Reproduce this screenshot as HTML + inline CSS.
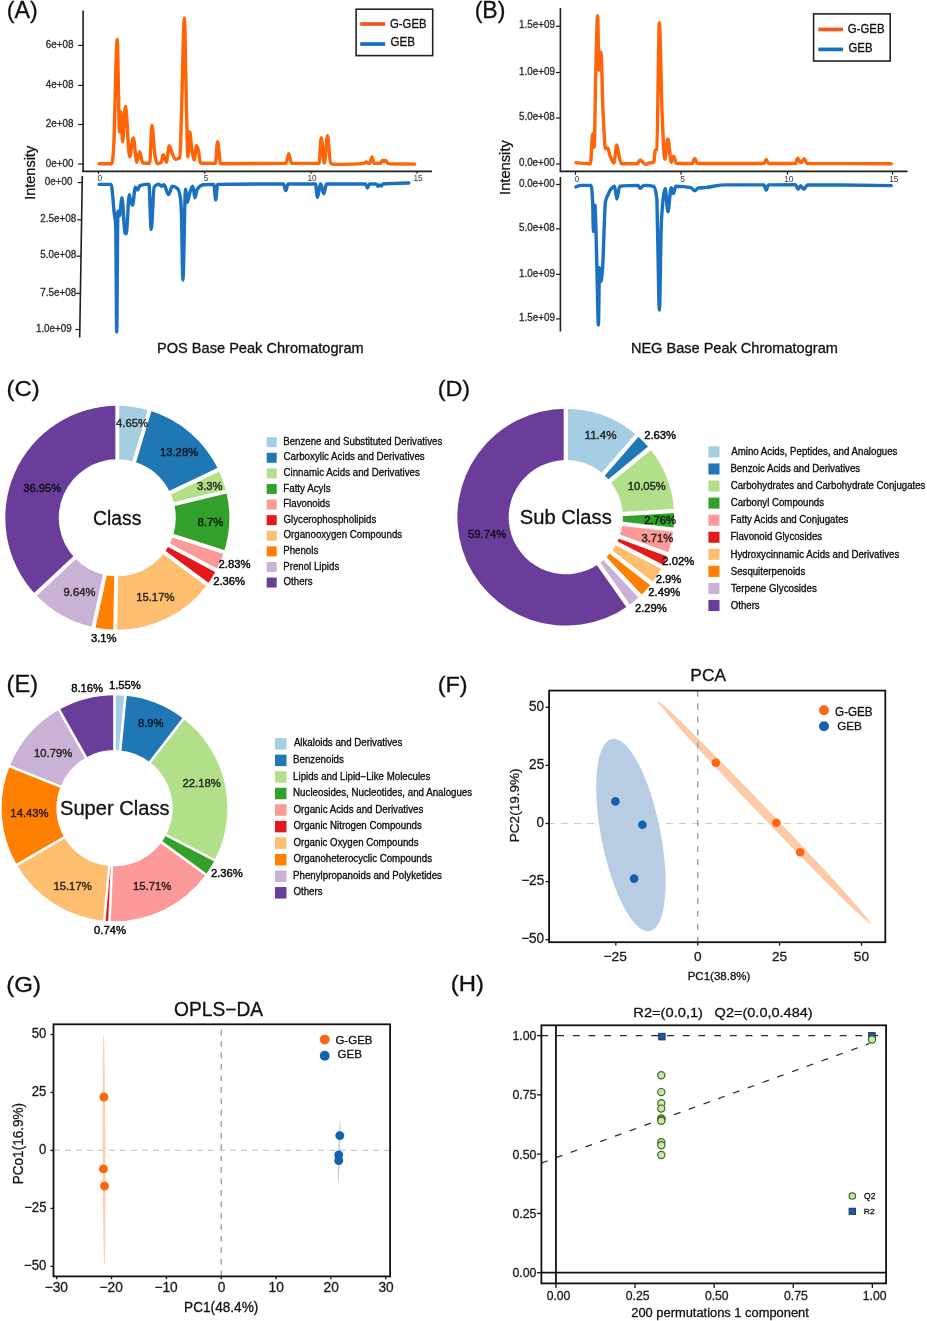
<!DOCTYPE html>
<html><head><meta charset="utf-8"><style>
html,body{margin:0;padding:0;background:#fff;overflow:hidden;}
svg{display:block;font-family:"Liberation Sans", sans-serif;will-change:transform;}
</style></head><body>
<svg width="927" height="1321" viewBox="0 0 927 1321">
<rect width="927" height="1321" fill="#fff"/>
<text x="6.66" y="17.80" font-size="23.11" textLength="30.98" lengthAdjust="spacingAndGlyphs" fill="#111" stroke="#111" stroke-width="0.3" >(A)</text>
<text x="474.67" y="17.80" font-size="23.11" textLength="30.76" lengthAdjust="spacingAndGlyphs" fill="#111" stroke="#111" stroke-width="0.3" >(B)</text>
<text x="6.52" y="396.20" font-size="22.53" textLength="33.16" lengthAdjust="spacingAndGlyphs" fill="#111" stroke="#111" stroke-width="0.3" >(C)</text>
<text x="437.65" y="395.80" font-size="22.97" textLength="32.50" lengthAdjust="spacingAndGlyphs" fill="#111" stroke="#111" stroke-width="0.3" >(D)</text>
<text x="6.64" y="691.70" font-size="23.26" textLength="31.42" lengthAdjust="spacingAndGlyphs" fill="#111" stroke="#111" stroke-width="0.3" >(E)</text>
<text x="437.65" y="691.50" font-size="22.97" textLength="29.90" lengthAdjust="spacingAndGlyphs" fill="#111" stroke="#111" stroke-width="0.3" >(F)</text>
<text x="6.31" y="991.70" font-size="21.95" textLength="34.68" lengthAdjust="spacingAndGlyphs" fill="#111" stroke="#111" stroke-width="0.3" >(G)</text>
<text x="450.82" y="991.30" font-size="21.37" textLength="33.16" lengthAdjust="spacingAndGlyphs" fill="#111" stroke="#111" stroke-width="0.3" >(H)</text>
<line x1="83.10" y1="10.50" x2="83.10" y2="172.10" stroke="#1e1e1e" stroke-width="1.6" />
<line x1="82.30" y1="171.45" x2="432.00" y2="171.45" stroke="#1e1e1e" stroke-width="1.8" />
<line x1="78.20" y1="45.40" x2="83.00" y2="45.40" stroke="#1e1e1e" stroke-width="1.2" />
<text x="45.78" y="47.90" font-size="10.20" textLength="27.64" lengthAdjust="spacingAndGlyphs" fill="#2a2a2a" stroke="#2a2a2a" stroke-width="0.3" >6e+08</text>
<line x1="78.20" y1="85.40" x2="83.00" y2="85.40" stroke="#1e1e1e" stroke-width="1.2" />
<text x="45.78" y="87.90" font-size="10.20" textLength="27.64" lengthAdjust="spacingAndGlyphs" fill="#2a2a2a" stroke="#2a2a2a" stroke-width="0.3" >4e+08</text>
<line x1="78.20" y1="124.50" x2="83.00" y2="124.50" stroke="#1e1e1e" stroke-width="1.2" />
<text x="45.78" y="127.00" font-size="10.20" textLength="27.64" lengthAdjust="spacingAndGlyphs" fill="#2a2a2a" stroke="#2a2a2a" stroke-width="0.3" >2e+08</text>
<line x1="78.20" y1="164.00" x2="83.00" y2="164.00" stroke="#1e1e1e" stroke-width="1.2" />
<text x="45.74" y="166.50" font-size="10.20" textLength="27.64" lengthAdjust="spacingAndGlyphs" fill="#2a2a2a" stroke="#2a2a2a" stroke-width="0.3" >0e+00</text>
<line x1="98.50" y1="171.40" x2="98.50" y2="173.80" stroke="#1e1e1e" stroke-width="1.2" />
<text x="97.39" y="180.80" font-size="8.30" textLength="4.62" lengthAdjust="spacingAndGlyphs" fill="#3a3a3a" stroke="#3a3a3a" stroke-width="0" >0</text>
<line x1="204.80" y1="171.40" x2="204.80" y2="173.80" stroke="#1e1e1e" stroke-width="1.2" />
<text x="203.70" y="180.80" font-size="8.30" textLength="4.62" lengthAdjust="spacingAndGlyphs" fill="#3a3a3a" stroke="#3a3a3a" stroke-width="0" >5</text>
<line x1="311.00" y1="171.40" x2="311.00" y2="173.80" stroke="#1e1e1e" stroke-width="1.2" />
<text x="307.43" y="180.80" font-size="8.30" textLength="9.23" lengthAdjust="spacingAndGlyphs" fill="#3a3a3a" stroke="#3a3a3a" stroke-width="0" >10</text>
<line x1="417.00" y1="171.40" x2="417.00" y2="173.80" stroke="#1e1e1e" stroke-width="1.2" />
<text x="413.44" y="180.80" font-size="8.30" textLength="9.23" lengthAdjust="spacingAndGlyphs" fill="#3a3a3a" stroke="#3a3a3a" stroke-width="0" >15</text>
<line x1="82.30" y1="176.00" x2="79.70" y2="337.50" stroke="#1e1e1e" stroke-width="1.6" />
<line x1="77.69" y1="182.60" x2="82.19" y2="182.60" stroke="#1e1e1e" stroke-width="1.2" />
<text x="44.74" y="184.80" font-size="10.20" textLength="27.64" lengthAdjust="spacingAndGlyphs" fill="#2a2a2a" stroke="#2a2a2a" stroke-width="0.3" >0e+00</text>
<line x1="77.09" y1="219.80" x2="81.59" y2="219.80" stroke="#1e1e1e" stroke-width="1.2" />
<text x="40.27" y="222.00" font-size="10.20" textLength="35.85" lengthAdjust="spacingAndGlyphs" fill="#2a2a2a" stroke="#2a2a2a" stroke-width="0.3" >2.5e+08</text>
<line x1="76.51" y1="256.20" x2="81.01" y2="256.20" stroke="#1e1e1e" stroke-width="1.2" />
<text x="40.27" y="258.40" font-size="10.20" textLength="35.85" lengthAdjust="spacingAndGlyphs" fill="#2a2a2a" stroke="#2a2a2a" stroke-width="0.3" >5.0e+08</text>
<line x1="75.91" y1="293.40" x2="80.41" y2="293.40" stroke="#1e1e1e" stroke-width="1.2" />
<text x="40.27" y="295.60" font-size="10.20" textLength="35.85" lengthAdjust="spacingAndGlyphs" fill="#2a2a2a" stroke="#2a2a2a" stroke-width="0.3" >7.5e+08</text>
<line x1="75.33" y1="329.50" x2="79.83" y2="329.50" stroke="#1e1e1e" stroke-width="1.2" />
<text x="35.91" y="331.70" font-size="10.20" textLength="35.85" lengthAdjust="spacingAndGlyphs" fill="#2a2a2a" stroke="#2a2a2a" stroke-width="0.3" >1.0e+09</text>
<text transform="translate(35.30,198.50) rotate(-90)" x="-1.34" y="0" font-size="15.26" textLength="53.97" lengthAdjust="spacingAndGlyphs" fill="#111" stroke="#111" stroke-width="0.3">Intensity</text>
<text x="157.00" y="352.70" font-size="13.81" textLength="206.66" lengthAdjust="spacingAndGlyphs" fill="#111" stroke="#111" stroke-width="0.3" >POS Base Peak Chromatogram</text>
<path d="M99.10,163.70 C103.37,163.70 107.63,163.70 111.90,163.70 C112.43,163.70 112.97,156.98 113.50,150.60 C114.73,135.84 115.97,39.10 117.20,39.10 C117.97,39.10 118.73,132.00 119.50,132.00 C120.00,132.00 120.50,111.60 121.00,111.60 C121.50,111.60 122.00,141.80 122.50,141.80 C123.50,141.80 124.50,106.30 125.50,106.30 C126.87,106.30 128.23,156.90 129.60,156.90 C130.83,156.90 132.07,138.00 133.30,138.00 C134.47,138.00 135.63,162.20 136.80,162.20 C137.70,162.20 138.60,151.60 139.50,151.60 C140.63,151.60 141.77,162.85 142.90,163.00 C145.17,163.29 147.43,163.40 149.70,163.40 C150.43,163.40 151.17,125.20 151.90,125.20 C152.93,125.20 153.97,150.21 155.00,155.60 C155.73,159.43 156.47,163.70 157.20,163.70 C158.47,163.70 159.73,163.33 161.00,162.60 C161.77,162.16 162.53,154.60 163.30,154.60 C164.30,154.60 165.30,162.20 166.30,162.20 C167.30,162.20 168.30,145.60 169.30,145.60 C170.20,145.60 171.10,150.56 172.00,152.60 C173.10,155.09 174.20,159.20 175.30,159.20 C176.83,159.20 178.37,158.86 179.90,157.60 C180.40,157.19 180.90,131.62 181.40,116.90 C182.40,87.45 183.40,18.00 184.40,18.00 C185.10,18.00 185.80,84.39 186.50,110.60 C186.97,128.07 187.43,156.90 187.90,156.90 C188.50,156.90 189.10,132.00 189.70,132.00 C190.47,132.00 191.23,146.35 192.00,150.60 C192.73,154.66 193.47,159.90 194.20,159.90 C194.97,159.90 195.73,145.60 196.50,145.60 C197.17,145.60 197.83,148.13 198.50,150.60 C199.10,152.82 199.70,162.96 200.30,163.00 C205.33,163.36 210.37,163.40 215.40,163.40 C216.13,163.40 216.87,141.80 217.60,141.80 C218.60,141.80 219.60,163.70 220.60,163.70 C242.40,163.70 264.20,163.69 286.00,163.40 C286.92,163.39 287.83,153.60 288.75,153.60 C289.67,153.60 290.58,163.40 291.50,163.40 C300.67,163.40 309.83,163.40 319.00,163.40 C319.75,163.40 320.50,137.60 321.25,137.60 C322.25,137.60 323.25,163.10 324.25,163.10 C325.33,163.10 326.42,135.60 327.50,135.60 C328.50,135.60 329.50,162.50 330.50,163.10 C332.00,164.00 333.50,164.40 335.00,164.40 C344.67,164.40 354.33,164.26 364.00,163.40 C364.75,163.33 365.50,161.85 366.25,161.85 C367.00,161.85 367.75,163.60 368.50,163.60 C369.00,163.60 369.50,163.39 370.00,163.10 C370.67,162.71 371.33,156.85 372.00,156.85 C372.67,156.85 373.33,163.40 374.00,163.40 C376.17,163.40 378.33,163.40 380.50,163.40 C381.17,163.40 381.83,160.10 382.50,160.10 C383.00,160.10 383.50,161.60 384.00,161.60 C384.50,161.60 385.00,160.10 385.50,160.10 C386.33,160.10 387.17,163.56 388.00,163.60 C396.83,164.05 405.67,163.93 414.50,164.10" fill="none" stroke="#ff6508" stroke-width="3.4" stroke-linejoin="round" stroke-linecap="round"/>
<path d="M99.10,184.40 C103.10,184.40 107.10,184.40 111.10,184.40 C112.13,184.40 113.17,204.04 114.20,212.80 C114.70,217.04 115.20,216.90 115.70,224.80 C116.03,230.07 116.37,332.10 116.70,332.10 C117.10,332.10 117.50,211.20 117.90,211.20 C118.43,211.20 118.97,215.80 119.50,215.80 C120.33,215.80 121.17,197.70 122.00,197.70 C123.00,197.70 124.00,231.98 125.00,233.10 C125.40,233.55 125.80,233.90 126.20,233.90 C127.23,233.90 128.27,194.60 129.30,194.60 C129.80,194.60 130.30,200.93 130.80,202.20 C131.40,203.73 132.00,205.20 132.60,205.20 C133.50,205.20 134.40,187.10 135.30,187.10 C136.07,187.10 136.83,190.10 137.60,190.10 C138.33,190.10 139.07,185.87 139.80,185.60 C142.83,184.48 145.87,184.10 148.90,184.10 C149.67,184.10 150.43,229.40 151.20,229.40 C152.20,229.40 153.20,188.46 154.20,187.10 C155.70,185.07 157.20,184.10 158.70,184.10 C159.70,184.10 160.70,186.30 161.70,186.30 C162.47,186.30 163.23,184.80 164.00,184.80 C165.50,184.80 167.00,194.60 168.50,194.60 C169.77,194.60 171.03,186.30 172.30,186.30 C174.07,186.30 175.83,187.13 177.60,188.60 C178.60,189.43 179.60,192.50 180.60,199.20 C180.87,200.99 181.13,206.51 181.40,212.80 C181.90,224.59 182.40,280.00 182.90,280.00 C183.77,280.00 184.63,189.30 185.50,189.30 C186.13,189.30 186.77,202.20 187.40,202.20 C188.17,202.20 188.93,195.34 189.70,193.10 C190.70,190.18 191.70,186.30 192.70,186.30 C193.47,186.30 194.23,197.70 195.00,197.70 C195.73,197.70 196.47,190.31 197.20,189.30 C199.23,186.49 201.27,184.96 203.30,184.80 C206.80,184.52 210.30,184.40 213.80,184.40 C214.43,184.40 215.07,199.90 215.70,199.90 C216.33,199.90 216.97,184.41 217.60,184.40 C239.57,184.01 261.53,184.00 283.50,184.00 C284.25,184.00 285.00,190.50 285.75,190.50 C286.50,190.50 287.25,184.00 288.00,184.00 C297.17,184.00 306.33,184.00 315.50,184.00 C316.17,184.00 316.83,197.50 317.50,197.50 C318.50,197.50 319.50,183.75 320.50,183.75 C321.58,183.75 322.67,193.75 323.75,193.75 C324.67,193.75 325.58,184.00 326.50,184.00 C339.50,184.00 352.50,184.00 365.50,184.00 C366.17,184.00 366.83,188.00 367.50,188.00 C368.17,188.00 368.83,184.00 369.50,184.00 C371.67,184.00 373.83,184.00 376.00,184.00 C376.67,184.00 377.33,186.25 378.00,186.25 C378.50,186.25 379.00,185.00 379.50,185.00 C380.08,185.00 380.67,186.00 381.25,186.00 C381.83,186.00 382.42,184.06 383.00,184.00 C391.58,183.11 400.17,183.33 408.75,183.00" fill="none" stroke="#1b70c1" stroke-width="3.4" stroke-linejoin="round" stroke-linecap="round"/>
<rect x="356.1" y="9.2" width="76.6" height="46.4" fill="#fff" stroke="#222" stroke-width="1.6"/>
<line x1="360.20" y1="24.00" x2="385.20" y2="24.00" stroke="#f2561c" stroke-width="3.7" />
<line x1="360.20" y1="44.05" x2="385.20" y2="44.05" stroke="#1670c0" stroke-width="3.7" />
<text x="390.03" y="27.60" font-size="12.06" textLength="36.47" lengthAdjust="spacingAndGlyphs" fill="#111" stroke="#111" stroke-width="0.3" >G-GEB</text>
<text x="390.42" y="46.40" font-size="12.06" textLength="24.50" lengthAdjust="spacingAndGlyphs" fill="#111" stroke="#111" stroke-width="0.3" >GEB</text>
<line x1="560.40" y1="8.00" x2="560.40" y2="171.60" stroke="#1e1e1e" stroke-width="1.6" />
<line x1="559.60" y1="171.30" x2="907.50" y2="171.30" stroke="#1e1e1e" stroke-width="1.8" />
<line x1="556.00" y1="26.25" x2="560.40" y2="26.25" stroke="#1e1e1e" stroke-width="1.2" />
<text x="519.01" y="28.35" font-size="10.20" textLength="35.85" lengthAdjust="spacingAndGlyphs" fill="#2a2a2a" stroke="#2a2a2a" stroke-width="0.3" >1.5e+09</text>
<line x1="556.00" y1="72.50" x2="560.40" y2="72.50" stroke="#1e1e1e" stroke-width="1.2" />
<text x="519.01" y="74.60" font-size="10.20" textLength="35.85" lengthAdjust="spacingAndGlyphs" fill="#2a2a2a" stroke="#2a2a2a" stroke-width="0.3" >1.0e+09</text>
<line x1="556.00" y1="118.00" x2="560.40" y2="118.00" stroke="#1e1e1e" stroke-width="1.2" />
<text x="518.97" y="120.10" font-size="10.20" textLength="35.85" lengthAdjust="spacingAndGlyphs" fill="#2a2a2a" stroke="#2a2a2a" stroke-width="0.3" >5.0e+08</text>
<line x1="556.00" y1="164.00" x2="560.40" y2="164.00" stroke="#1e1e1e" stroke-width="1.2" />
<text x="518.93" y="166.10" font-size="10.20" textLength="35.85" lengthAdjust="spacingAndGlyphs" fill="#2a2a2a" stroke="#2a2a2a" stroke-width="0.3" >0.0e+00</text>
<line x1="575.50" y1="171.30" x2="575.50" y2="174.70" stroke="#1e1e1e" stroke-width="1.2" />
<text x="574.69" y="182.40" font-size="8.30" textLength="4.62" lengthAdjust="spacingAndGlyphs" fill="#3a3a3a" stroke="#3a3a3a" stroke-width="0" >0</text>
<line x1="681.00" y1="171.30" x2="681.00" y2="174.70" stroke="#1e1e1e" stroke-width="1.2" />
<text x="680.20" y="182.40" font-size="8.30" textLength="4.62" lengthAdjust="spacingAndGlyphs" fill="#3a3a3a" stroke="#3a3a3a" stroke-width="0" >5</text>
<line x1="787.50" y1="171.30" x2="787.50" y2="174.70" stroke="#1e1e1e" stroke-width="1.2" />
<text x="784.23" y="182.40" font-size="8.30" textLength="9.23" lengthAdjust="spacingAndGlyphs" fill="#3a3a3a" stroke="#3a3a3a" stroke-width="0" >10</text>
<line x1="892.50" y1="171.30" x2="892.50" y2="174.70" stroke="#1e1e1e" stroke-width="1.2" />
<text x="889.24" y="182.40" font-size="8.30" textLength="9.23" lengthAdjust="spacingAndGlyphs" fill="#3a3a3a" stroke="#3a3a3a" stroke-width="0" >15</text>
<line x1="560.40" y1="177.00" x2="560.40" y2="331.50" stroke="#1e1e1e" stroke-width="1.6" />
<line x1="556.00" y1="184.50" x2="560.40" y2="184.50" stroke="#1e1e1e" stroke-width="1.2" />
<text x="518.93" y="186.90" font-size="10.20" textLength="35.85" lengthAdjust="spacingAndGlyphs" fill="#2a2a2a" stroke="#2a2a2a" stroke-width="0.3" >0.0e+00</text>
<line x1="556.00" y1="228.90" x2="560.40" y2="228.90" stroke="#1e1e1e" stroke-width="1.2" />
<text x="518.97" y="231.30" font-size="10.20" textLength="35.85" lengthAdjust="spacingAndGlyphs" fill="#2a2a2a" stroke="#2a2a2a" stroke-width="0.3" >5.0e+08</text>
<line x1="556.00" y1="274.40" x2="560.40" y2="274.40" stroke="#1e1e1e" stroke-width="1.2" />
<text x="519.01" y="276.80" font-size="10.20" textLength="35.85" lengthAdjust="spacingAndGlyphs" fill="#2a2a2a" stroke="#2a2a2a" stroke-width="0.3" >1.0e+09</text>
<line x1="556.00" y1="318.90" x2="560.40" y2="318.90" stroke="#1e1e1e" stroke-width="1.2" />
<text x="519.01" y="321.30" font-size="10.20" textLength="35.85" lengthAdjust="spacingAndGlyphs" fill="#2a2a2a" stroke="#2a2a2a" stroke-width="0.3" >1.5e+09</text>
<text transform="translate(509.70,193.60) rotate(-90)" x="-1.36" y="0" font-size="15.26" textLength="54.79" lengthAdjust="spacingAndGlyphs" fill="#111" stroke="#111" stroke-width="0.3">Intensity</text>
<text x="630.91" y="352.70" font-size="13.81" textLength="206.95" lengthAdjust="spacingAndGlyphs" fill="#111" stroke="#111" stroke-width="0.3" >NEG Base Peak Chromatogram</text>
<path d="M576.00,162.60 C580.80,163.00 585.60,163.80 590.40,163.80 C591.17,163.80 591.93,133.60 592.70,133.60 C593.20,133.60 593.70,147.20 594.20,147.20 C594.70,147.20 595.20,95.36 595.70,76.20 C596.33,51.92 596.97,15.80 597.60,15.80 C598.07,15.80 598.53,70.20 599.00,70.20 C599.67,70.20 600.33,52.10 601.00,52.10 C601.67,52.10 602.33,97.20 603.00,110.70 C603.83,127.58 604.67,148.70 605.50,148.70 C606.27,148.70 607.03,148.00 607.80,148.00 C608.53,148.00 609.27,153.82 610.00,155.70 C611.27,158.95 612.53,163.10 613.80,163.10 C614.80,163.10 615.80,144.90 616.80,144.90 C617.53,144.90 618.27,152.76 619.00,155.70 C619.80,158.91 620.60,163.80 621.40,163.80 C626.67,163.80 631.93,163.80 637.20,163.80 C638.20,163.80 639.20,160.00 640.20,160.00 C641.97,160.00 643.73,164.60 645.50,164.60 C646.50,164.60 647.50,163.34 648.50,163.10 C650.27,162.67 652.03,162.94 653.80,162.30 C654.30,162.12 654.80,150.64 655.30,150.20 C655.80,149.76 656.30,149.92 656.80,149.50 C657.67,148.76 658.53,22.60 659.40,22.60 C660.27,22.60 661.13,90.73 662.00,110.70 C662.93,132.21 663.87,159.30 664.80,159.30 C665.83,159.30 666.87,138.90 667.90,138.90 C669.00,138.90 670.10,162.30 671.20,162.30 C671.97,162.30 672.73,156.30 673.50,156.30 C674.50,156.30 675.50,163.50 676.50,163.50 C681.77,163.50 687.03,163.50 692.30,163.50 C693.07,163.50 693.83,158.50 694.60,158.50 C695.60,158.50 696.60,163.50 697.60,163.50 C719.73,163.50 741.87,163.50 764.00,163.50 C764.75,163.50 765.50,159.45 766.25,159.45 C767.00,159.45 767.75,163.50 768.50,163.50 C777.50,163.50 786.50,163.50 795.50,163.50 C796.17,163.50 796.83,158.20 797.50,158.20 C798.67,158.20 799.83,162.70 801.00,162.70 C802.08,162.70 803.17,158.70 804.25,158.70 C805.17,158.70 806.08,163.49 807.00,163.50 C835.08,163.69 863.17,163.63 891.25,163.70" fill="none" stroke="#ff6508" stroke-width="3.4" stroke-linejoin="round" stroke-linecap="round"/>
<path d="M576.00,186.90 C577.53,186.40 579.07,185.40 580.60,185.40 C584.10,185.40 587.60,185.40 591.10,185.40 C591.63,185.40 592.17,192.88 592.70,202.80 C592.93,207.14 593.17,231.50 593.40,231.50 C593.90,231.50 594.40,205.10 594.90,205.10 C595.27,205.10 595.63,220.39 596.00,231.50 C596.40,243.62 596.80,265.76 597.20,281.30 C597.60,296.84 598.00,325.10 598.40,325.10 C598.77,325.10 599.13,267.70 599.50,267.70 C600.00,267.70 600.50,281.30 601.00,281.30 C601.50,281.30 602.00,274.85 602.50,269.20 C603.50,257.90 604.50,205.89 605.50,201.30 C606.27,197.78 607.03,196.96 607.80,195.20 C608.80,192.91 609.80,190.35 610.80,189.20 C612.07,187.74 613.33,186.20 614.60,186.20 C615.33,186.20 616.07,199.00 616.80,199.00 C617.80,199.00 618.80,186.31 619.80,186.20 C625.87,185.51 631.93,185.40 638.00,185.40 C638.73,185.40 639.47,188.40 640.20,188.40 C641.47,188.40 642.73,185.40 644.00,185.40 C647.27,185.40 650.53,185.64 653.80,186.50 C654.80,186.76 655.80,189.70 656.80,198.30 C657.07,200.59 657.33,221.50 657.60,233.00 C658.20,258.87 658.80,310.00 659.40,310.00 C660.07,310.00 660.73,231.19 661.40,220.90 C662.67,201.35 663.93,188.40 665.20,188.40 C666.10,188.40 667.00,211.80 667.90,211.80 C669.00,211.80 670.10,187.70 671.20,187.70 C671.97,187.70 672.73,193.70 673.50,193.70 C674.23,193.70 674.97,186.20 675.70,186.20 C680.73,186.20 685.77,186.65 690.80,187.70 C692.07,187.96 693.33,190.70 694.60,190.70 C695.87,190.70 697.13,188.15 698.40,188.00 C700.60,187.73 702.80,187.77 705.00,187.60 C711.67,187.07 718.33,184.85 725.00,184.85 C738.00,184.85 751.00,184.85 764.00,184.85 C764.75,184.85 765.50,190.10 766.25,190.10 C767.00,190.10 767.75,184.87 768.50,184.85 C777.50,184.62 786.50,184.60 795.50,184.60 C796.33,184.60 797.17,189.35 798.00,189.35 C798.83,189.35 799.67,185.60 800.50,185.60 C801.58,185.60 802.67,189.35 803.75,189.35 C805.00,189.35 806.25,184.85 807.50,184.85 C835.42,184.85 863.33,185.35 891.25,185.60" fill="none" stroke="#1b70c1" stroke-width="3.4" stroke-linejoin="round" stroke-linecap="round"/>
<rect x="813.6" y="13.9" width="76.6" height="47.1" fill="#fff" stroke="#222" stroke-width="1.6"/>
<line x1="818.30" y1="29.45" x2="843.00" y2="29.45" stroke="#f2561c" stroke-width="3.7" />
<line x1="818.30" y1="49.40" x2="843.00" y2="49.40" stroke="#1670c0" stroke-width="3.7" />
<text x="847.73" y="32.60" font-size="11.92" textLength="36.78" lengthAdjust="spacingAndGlyphs" fill="#111" stroke="#111" stroke-width="0.3" >G-GEB</text>
<text x="848.43" y="52.20" font-size="11.92" textLength="24.07" lengthAdjust="spacingAndGlyphs" fill="#111" stroke="#111" stroke-width="0.3" >GEB</text>
<path d="M117.30,405.85 A112,112 0 0 1 149.57,410.60 L134.15,461.83 A58.5,58.5 0 0 0 117.30,459.35 Z" fill="#A6CEE3"/>
<path d="M149.57,410.60 A112,112 0 0 1 218.44,469.74 L170.13,492.72 A58.5,58.5 0 0 0 134.15,461.83 Z" fill="#1F78B4"/>
<path d="M218.44,469.74 A112,112 0 0 1 226.18,491.60 L174.17,504.14 A58.5,58.5 0 0 0 170.13,492.72 Z" fill="#B2DF8A"/>
<path d="M226.18,491.60 A112,112 0 0 1 223.96,552.03 L173.01,535.70 A58.5,58.5 0 0 0 174.17,504.14 Z" fill="#33A02C"/>
<path d="M223.96,552.03 A112,112 0 0 1 216.23,570.36 L168.97,545.28 A58.5,58.5 0 0 0 173.01,535.70 Z" fill="#FB9A99"/>
<path d="M216.23,570.36 A112,112 0 0 1 207.38,584.40 L164.35,552.61 A58.5,58.5 0 0 0 168.97,545.28 Z" fill="#E31A1C"/>
<path d="M207.38,584.40 A112,112 0 0 1 115.19,629.83 L116.20,576.34 A58.5,58.5 0 0 0 164.35,552.61 Z" fill="#FDBF6F"/>
<path d="M115.19,629.83 A112,112 0 0 1 93.55,627.30 L104.90,575.02 A58.5,58.5 0 0 0 116.20,576.34 Z" fill="#FF7F00"/>
<path d="M93.55,627.30 A112,112 0 0 1 35.45,594.30 L74.55,557.78 A58.5,58.5 0 0 0 104.90,575.02 Z" fill="#CAB2D6"/>
<path d="M35.45,594.30 A112,112 0 0 1 117.30,405.85 L117.30,459.35 A58.5,58.5 0 0 0 74.55,557.78 Z" fill="#6A3D9A"/>
<line x1="117.30" y1="461.35" x2="117.30" y2="403.85" stroke="#fff" stroke-width="3.9" />
<line x1="133.58" y1="463.75" x2="150.14" y2="408.68" stroke="#fff" stroke-width="3.9" />
<line x1="168.32" y1="493.58" x2="220.25" y2="468.88" stroke="#fff" stroke-width="3.9" />
<line x1="172.23" y1="504.61" x2="228.12" y2="491.13" stroke="#fff" stroke-width="3.9" />
<line x1="171.10" y1="535.09" x2="225.86" y2="552.64" stroke="#fff" stroke-width="3.9" />
<line x1="167.21" y1="544.34" x2="217.99" y2="571.30" stroke="#fff" stroke-width="3.9" />
<line x1="162.74" y1="551.42" x2="208.99" y2="585.59" stroke="#fff" stroke-width="3.9" />
<line x1="116.23" y1="574.34" x2="115.15" y2="631.83" stroke="#fff" stroke-width="3.9" />
<line x1="105.32" y1="573.07" x2="93.13" y2="629.26" stroke="#fff" stroke-width="3.9" />
<line x1="76.01" y1="556.42" x2="33.99" y2="595.67" stroke="#fff" stroke-width="3.9" />
<text x="93.12" y="524.80" font-size="19.77" textLength="48.17" lengthAdjust="spacingAndGlyphs" fill="#111" stroke="#111" stroke-width="0.3" >Class</text>
<text x="116.10" y="426.90" font-size="11.80" textLength="31.95" lengthAdjust="spacingAndGlyphs" fill="#000" stroke="#000" stroke-width="0.45" opacity="0.82">4.65%</text>
<text x="159.96" y="455.50" font-size="11.80" textLength="38.22" lengthAdjust="spacingAndGlyphs" fill="#000" stroke="#000" stroke-width="0.45" opacity="0.82">13.28%</text>
<text x="196.94" y="489.70" font-size="11.80" textLength="25.69" lengthAdjust="spacingAndGlyphs" fill="#000" stroke="#000" stroke-width="0.45" opacity="0.82">3.3%</text>
<text x="197.51" y="525.60" font-size="11.80" textLength="25.69" lengthAdjust="spacingAndGlyphs" fill="#000" stroke="#000" stroke-width="0.45" opacity="0.82">8.7%</text>
<text x="218.54" y="567.90" font-size="11.80" textLength="31.95" lengthAdjust="spacingAndGlyphs" fill="#0a0a0a" stroke="#0a0a0a" stroke-width="0.45" >2.83%</text>
<text x="213.14" y="585.40" font-size="11.80" textLength="31.95" lengthAdjust="spacingAndGlyphs" fill="#0a0a0a" stroke="#0a0a0a" stroke-width="0.45" >2.36%</text>
<text x="136.21" y="600.80" font-size="11.80" textLength="38.22" lengthAdjust="spacingAndGlyphs" fill="#000" stroke="#000" stroke-width="0.45" opacity="0.82">15.17%</text>
<text x="90.94" y="642.10" font-size="11.80" textLength="25.69" lengthAdjust="spacingAndGlyphs" fill="#0a0a0a" stroke="#0a0a0a" stroke-width="0.45" >3.1%</text>
<text x="63.56" y="595.70" font-size="11.80" textLength="31.95" lengthAdjust="spacingAndGlyphs" fill="#000" stroke="#000" stroke-width="0.45" opacity="0.82">9.64%</text>
<text x="23.18" y="492.20" font-size="11.80" textLength="38.22" lengthAdjust="spacingAndGlyphs" fill="#000" stroke="#000" stroke-width="0.45" opacity="0.82">36.95%</text>
<path d="M565.80,408.80 A108.4,108.4 0 0 1 636.98,435.44 L603.29,474.13 A57.1,57.1 0 0 0 565.80,460.10 Z" fill="#A6CEE3"/>
<path d="M636.98,435.44 A108.4,108.4 0 0 1 649.46,448.27 L609.87,480.89 A57.1,57.1 0 0 0 603.29,474.13 Z" fill="#1F78B4"/>
<path d="M649.46,448.27 A108.4,108.4 0 0 1 674.02,510.95 L622.81,513.91 A57.1,57.1 0 0 0 609.87,480.89 Z" fill="#B2DF8A"/>
<path d="M674.02,510.95 A108.4,108.4 0 0 1 673.47,529.72 L622.52,523.80 A57.1,57.1 0 0 0 622.81,513.91 Z" fill="#33A02C"/>
<path d="M673.47,529.72 A108.4,108.4 0 0 1 667.67,554.26 L619.46,536.72 A57.1,57.1 0 0 0 622.52,523.80 Z" fill="#FB9A99"/>
<path d="M667.67,554.26 A108.4,108.4 0 0 1 662.16,566.86 L616.56,543.36 A57.1,57.1 0 0 0 619.46,536.72 Z" fill="#E31A1C"/>
<path d="M662.16,566.86 A108.4,108.4 0 0 1 651.56,583.50 L610.98,552.12 A57.1,57.1 0 0 0 616.56,543.36 Z" fill="#FDBF6F"/>
<path d="M651.56,583.50 A108.4,108.4 0 0 1 640.18,596.05 L604.98,558.74 A57.1,57.1 0 0 0 610.98,552.12 Z" fill="#FF7F00"/>
<path d="M640.18,596.05 A108.4,108.4 0 0 1 628.11,605.90 L598.62,563.92 A57.1,57.1 0 0 0 604.98,558.74 Z" fill="#CAB2D6"/>
<path d="M628.11,605.90 A108.4,108.4 0 1 1 565.80,408.80 L565.80,460.10 A57.1,57.1 0 1 0 598.62,563.92 Z" fill="#6A3D9A"/>
<line x1="565.80" y1="462.10" x2="565.80" y2="406.80" stroke="#fff" stroke-width="4.3" />
<line x1="601.98" y1="475.64" x2="638.29" y2="433.94" stroke="#fff" stroke-width="4.3" />
<line x1="608.32" y1="482.16" x2="651.00" y2="447.00" stroke="#fff" stroke-width="4.3" />
<line x1="620.81" y1="514.03" x2="676.02" y2="510.84" stroke="#fff" stroke-width="4.3" />
<line x1="620.53" y1="523.57" x2="675.46" y2="529.95" stroke="#fff" stroke-width="4.3" />
<line x1="617.58" y1="536.04" x2="669.55" y2="554.94" stroke="#fff" stroke-width="4.3" />
<line x1="614.78" y1="542.44" x2="663.94" y2="567.77" stroke="#fff" stroke-width="4.3" />
<line x1="609.39" y1="550.90" x2="653.15" y2="584.72" stroke="#fff" stroke-width="4.3" />
<line x1="603.61" y1="557.28" x2="641.56" y2="597.51" stroke="#fff" stroke-width="4.3" />
<line x1="597.47" y1="562.29" x2="629.26" y2="607.54" stroke="#fff" stroke-width="4.3" />
<text x="519.88" y="524.00" font-size="19.77" textLength="91.84" lengthAdjust="spacingAndGlyphs" fill="#111" stroke="#111" stroke-width="0.3" >Sub Class</text>
<text x="584.60" y="439.30" font-size="11.80" textLength="31.95" lengthAdjust="spacingAndGlyphs" fill="#000" stroke="#000" stroke-width="0.45" opacity="0.82">11.4%</text>
<text x="644.14" y="439.20" font-size="11.80" textLength="31.95" lengthAdjust="spacingAndGlyphs" fill="#0a0a0a" stroke="#0a0a0a" stroke-width="0.45" >2.63%</text>
<text x="627.66" y="489.70" font-size="11.80" textLength="38.22" lengthAdjust="spacingAndGlyphs" fill="#000" stroke="#000" stroke-width="0.45" opacity="0.82">10.05%</text>
<text x="644.14" y="524.20" font-size="11.80" textLength="31.95" lengthAdjust="spacingAndGlyphs" fill="#000" stroke="#000" stroke-width="0.45" opacity="0.82">2.76%</text>
<text x="641.41" y="541.90" font-size="11.80" textLength="31.95" lengthAdjust="spacingAndGlyphs" fill="#000" stroke="#000" stroke-width="0.45" opacity="0.82">3.71%</text>
<text x="662.34" y="565.40" font-size="11.80" textLength="31.95" lengthAdjust="spacingAndGlyphs" fill="#0a0a0a" stroke="#0a0a0a" stroke-width="0.45" >2.02%</text>
<text x="655.67" y="582.50" font-size="11.80" textLength="25.69" lengthAdjust="spacingAndGlyphs" fill="#0a0a0a" stroke="#0a0a0a" stroke-width="0.45" >2.9%</text>
<text x="648.34" y="595.70" font-size="11.80" textLength="31.95" lengthAdjust="spacingAndGlyphs" fill="#0a0a0a" stroke="#0a0a0a" stroke-width="0.45" >2.49%</text>
<text x="634.94" y="612.00" font-size="11.80" textLength="31.95" lengthAdjust="spacingAndGlyphs" fill="#0a0a0a" stroke="#0a0a0a" stroke-width="0.45" >2.29%</text>
<text x="467.97" y="538.20" font-size="11.80" textLength="38.22" lengthAdjust="spacingAndGlyphs" fill="#000" stroke="#000" stroke-width="0.45" opacity="0.82">59.74%</text>
<path d="M114.50,695.30 A112.9,112.9 0 0 1 125.48,695.84 L120.15,750.38 A58.1,58.1 0 0 0 114.50,750.10 Z" fill="#A6CEE3"/>
<path d="M125.48,695.84 A112.9,112.9 0 0 1 183.42,718.78 L149.97,762.18 A58.1,58.1 0 0 0 120.15,750.38 Z" fill="#1F78B4"/>
<path d="M183.42,718.78 A112.9,112.9 0 0 1 214.66,860.30 L166.04,835.01 A58.1,58.1 0 0 0 149.97,762.18 Z" fill="#B2DF8A"/>
<path d="M214.66,860.30 A112.9,112.9 0 0 1 205.87,874.52 L161.52,842.33 A58.1,58.1 0 0 0 166.04,835.01 Z" fill="#33A02C"/>
<path d="M205.87,874.52 A112.9,112.9 0 0 1 109.50,920.99 L111.93,866.24 A58.1,58.1 0 0 0 161.52,842.33 Z" fill="#FB9A99"/>
<path d="M109.50,920.99 A112.9,112.9 0 0 1 104.26,920.63 L109.23,866.06 A58.1,58.1 0 0 0 111.93,866.24 Z" fill="#E31A1C"/>
<path d="M104.26,920.63 A112.9,112.9 0 0 1 16.90,864.96 L64.28,837.41 A58.1,58.1 0 0 0 109.23,866.06 Z" fill="#FDBF6F"/>
<path d="M16.90,864.96 A112.9,112.9 0 0 1 9.65,766.32 L60.54,786.65 A58.1,58.1 0 0 0 64.28,837.41 Z" fill="#FF7F00"/>
<path d="M9.65,766.32 A112.9,112.9 0 0 1 59.11,709.82 L86.00,757.57 A58.1,58.1 0 0 0 60.54,786.65 Z" fill="#CAB2D6"/>
<path d="M59.11,709.82 A112.9,112.9 0 0 1 114.50,695.30 L114.50,750.10 A58.1,58.1 0 0 0 86.00,757.57 Z" fill="#6A3D9A"/>
<line x1="114.50" y1="752.10" x2="114.50" y2="693.30" stroke="#fff" stroke-width="2.6" />
<line x1="119.96" y1="752.37" x2="125.67" y2="693.84" stroke="#fff" stroke-width="2.6" />
<line x1="148.75" y1="763.77" x2="184.64" y2="717.20" stroke="#fff" stroke-width="2.6" />
<line x1="164.27" y1="834.09" x2="216.44" y2="861.22" stroke="#fff" stroke-width="2.6" />
<line x1="159.90" y1="841.16" x2="207.48" y2="875.70" stroke="#fff" stroke-width="2.6" />
<line x1="112.02" y1="864.24" x2="109.41" y2="922.99" stroke="#fff" stroke-width="2.6" />
<line x1="109.41" y1="864.07" x2="104.08" y2="922.63" stroke="#fff" stroke-width="2.6" />
<line x1="66.00" y1="836.40" x2="15.17" y2="865.96" stroke="#fff" stroke-width="2.6" />
<line x1="62.40" y1="787.39" x2="7.80" y2="765.58" stroke="#fff" stroke-width="2.6" />
<line x1="86.98" y1="759.31" x2="58.13" y2="708.08" stroke="#fff" stroke-width="2.6" />
<text x="59.99" y="814.80" font-size="19.77" textLength="109.54" lengthAdjust="spacingAndGlyphs" fill="#111" stroke="#111" stroke-width="0.3" >Super Class</text>
<text x="108.90" y="689.40" font-size="11.80" textLength="31.95" lengthAdjust="spacingAndGlyphs" fill="#0a0a0a" stroke="#0a0a0a" stroke-width="0.45" >1.55%</text>
<text x="71.18" y="692.40" font-size="11.80" textLength="31.95" lengthAdjust="spacingAndGlyphs" fill="#0a0a0a" stroke="#0a0a0a" stroke-width="0.45" >8.16%</text>
<text x="137.96" y="727.15" font-size="11.80" textLength="25.69" lengthAdjust="spacingAndGlyphs" fill="#000" stroke="#000" stroke-width="0.45" opacity="0.82">8.9%</text>
<text x="182.51" y="787.00" font-size="11.80" textLength="38.22" lengthAdjust="spacingAndGlyphs" fill="#000" stroke="#000" stroke-width="0.45" opacity="0.82">22.18%</text>
<text x="210.94" y="877.30" font-size="11.80" textLength="31.95" lengthAdjust="spacingAndGlyphs" fill="#0a0a0a" stroke="#0a0a0a" stroke-width="0.45" >2.36%</text>
<text x="133.06" y="889.50" font-size="11.80" textLength="38.22" lengthAdjust="spacingAndGlyphs" fill="#000" stroke="#000" stroke-width="0.45" opacity="0.82">15.71%</text>
<text x="94.00" y="934.00" font-size="11.80" textLength="31.95" lengthAdjust="spacingAndGlyphs" fill="#0a0a0a" stroke="#0a0a0a" stroke-width="0.45" >0.74%</text>
<text x="53.46" y="889.50" font-size="11.80" textLength="38.22" lengthAdjust="spacingAndGlyphs" fill="#000" stroke="#000" stroke-width="0.45" opacity="0.82">15.17%</text>
<text x="10.36" y="816.70" font-size="11.80" textLength="38.22" lengthAdjust="spacingAndGlyphs" fill="#000" stroke="#000" stroke-width="0.45" opacity="0.82">14.43%</text>
<text x="34.06" y="757.30" font-size="11.80" textLength="38.22" lengthAdjust="spacingAndGlyphs" fill="#000" stroke="#000" stroke-width="0.45" opacity="0.82">10.79%</text>
<rect x="266.70" y="437.15" width="10.0" height="10.0" fill="#A6CEE3"/>
<text x="283.20" y="444.75" font-size="11.00" textLength="159.05" lengthAdjust="spacingAndGlyphs" fill="#0a0a0a" stroke="#0a0a0a" stroke-width="0.3" >Benzene and Substituted Derivatives</text>
<rect x="266.70" y="452.75" width="10.0" height="10.0" fill="#1F78B4"/>
<text x="283.51" y="460.35" font-size="11.00" textLength="141.22" lengthAdjust="spacingAndGlyphs" fill="#0a0a0a" stroke="#0a0a0a" stroke-width="0.3" >Carboxylic Acids and Derivatives</text>
<rect x="266.70" y="468.35" width="10.0" height="10.0" fill="#B2DF8A"/>
<text x="283.51" y="475.95" font-size="11.00" textLength="136.37" lengthAdjust="spacingAndGlyphs" fill="#0a0a0a" stroke="#0a0a0a" stroke-width="0.3" >Cinnamic Acids and Derivatives</text>
<rect x="266.70" y="483.95" width="10.0" height="10.0" fill="#33A02C"/>
<text x="283.20" y="491.55" font-size="11.00" textLength="47.42" lengthAdjust="spacingAndGlyphs" fill="#0a0a0a" stroke="#0a0a0a" stroke-width="0.3" >Fatty Acyls</text>
<rect x="266.70" y="499.55" width="10.0" height="10.0" fill="#FB9A99"/>
<text x="283.20" y="507.15" font-size="11.00" textLength="46.90" lengthAdjust="spacingAndGlyphs" fill="#0a0a0a" stroke="#0a0a0a" stroke-width="0.3" >Flavonoids</text>
<rect x="266.70" y="515.15" width="10.0" height="10.0" fill="#E31A1C"/>
<text x="283.51" y="522.75" font-size="11.00" textLength="92.73" lengthAdjust="spacingAndGlyphs" fill="#0a0a0a" stroke="#0a0a0a" stroke-width="0.3" >Glycerophospholipids</text>
<rect x="266.70" y="530.75" width="10.0" height="10.0" fill="#FDBF6F"/>
<text x="283.54" y="538.35" font-size="11.00" textLength="118.61" lengthAdjust="spacingAndGlyphs" fill="#0a0a0a" stroke="#0a0a0a" stroke-width="0.3" >Organooxygen Compounds</text>
<rect x="266.70" y="546.35" width="10.0" height="10.0" fill="#FF7F00"/>
<text x="283.20" y="553.95" font-size="11.00" textLength="35.05" lengthAdjust="spacingAndGlyphs" fill="#0a0a0a" stroke="#0a0a0a" stroke-width="0.3" >Phenols</text>
<rect x="266.70" y="561.95" width="10.0" height="10.0" fill="#CAB2D6"/>
<text x="283.20" y="569.55" font-size="11.00" textLength="56.07" lengthAdjust="spacingAndGlyphs" fill="#0a0a0a" stroke="#0a0a0a" stroke-width="0.3" >Prenol Lipids</text>
<rect x="266.70" y="577.55" width="10.0" height="10.0" fill="#6A3D9A"/>
<text x="283.54" y="585.15" font-size="11.00" textLength="29.11" lengthAdjust="spacingAndGlyphs" fill="#0a0a0a" stroke="#0a0a0a" stroke-width="0.3" >Others</text>
<rect x="708.40" y="446.35" width="11.1" height="11.1" fill="#A6CEE3"/>
<text x="731.18" y="455.10" font-size="10.00" textLength="166.31" lengthAdjust="spacingAndGlyphs" fill="#0a0a0a" stroke="#0a0a0a" stroke-width="0.3" >Amino Acids, Peptides, and Analogues</text>
<rect x="708.40" y="463.42" width="11.1" height="11.1" fill="#1F78B4"/>
<text x="730.41" y="472.17" font-size="10.00" textLength="129.81" lengthAdjust="spacingAndGlyphs" fill="#0a0a0a" stroke="#0a0a0a" stroke-width="0.3" >Benzoic Acids and Derivatives</text>
<rect x="708.40" y="480.49" width="11.1" height="11.1" fill="#B2DF8A"/>
<text x="730.71" y="489.24" font-size="10.00" textLength="194.74" lengthAdjust="spacingAndGlyphs" fill="#0a0a0a" stroke="#0a0a0a" stroke-width="0.3" >Carbohydrates and Carbohydrate Conjugates</text>
<rect x="708.40" y="497.56" width="11.1" height="11.1" fill="#33A02C"/>
<text x="730.71" y="506.31" font-size="10.00" textLength="93.34" lengthAdjust="spacingAndGlyphs" fill="#0a0a0a" stroke="#0a0a0a" stroke-width="0.3" >Carbonyl Compounds</text>
<rect x="708.40" y="514.63" width="11.1" height="11.1" fill="#FB9A99"/>
<text x="730.41" y="523.38" font-size="10.00" textLength="118.02" lengthAdjust="spacingAndGlyphs" fill="#0a0a0a" stroke="#0a0a0a" stroke-width="0.3" >Fatty Acids and Conjugates</text>
<rect x="708.40" y="531.70" width="11.1" height="11.1" fill="#E31A1C"/>
<text x="730.41" y="540.45" font-size="10.00" textLength="91.72" lengthAdjust="spacingAndGlyphs" fill="#0a0a0a" stroke="#0a0a0a" stroke-width="0.3" >Flavonoid Glycosides</text>
<rect x="708.40" y="548.77" width="11.1" height="11.1" fill="#FDBF6F"/>
<text x="730.41" y="557.52" font-size="10.00" textLength="168.94" lengthAdjust="spacingAndGlyphs" fill="#0a0a0a" stroke="#0a0a0a" stroke-width="0.3" >Hydroxycinnamic Acids and Derivatives</text>
<rect x="708.40" y="565.84" width="11.1" height="11.1" fill="#FF7F00"/>
<text x="730.76" y="574.59" font-size="10.00" textLength="74.57" lengthAdjust="spacingAndGlyphs" fill="#0a0a0a" stroke="#0a0a0a" stroke-width="0.3" >Sesquiterpenoids</text>
<rect x="708.40" y="582.91" width="11.1" height="11.1" fill="#CAB2D6"/>
<text x="730.98" y="591.66" font-size="10.00" textLength="85.82" lengthAdjust="spacingAndGlyphs" fill="#0a0a0a" stroke="#0a0a0a" stroke-width="0.3" >Terpene Glycosides</text>
<rect x="708.40" y="599.98" width="11.1" height="11.1" fill="#6A3D9A"/>
<text x="730.74" y="608.73" font-size="10.00" textLength="28.96" lengthAdjust="spacingAndGlyphs" fill="#0a0a0a" stroke="#0a0a0a" stroke-width="0.3" >Others</text>
<rect x="275.00" y="738.10" width="11.5" height="11.5" fill="#A6CEE3"/>
<text x="293.88" y="746.45" font-size="10.00" textLength="108.38" lengthAdjust="spacingAndGlyphs" fill="#0a0a0a" stroke="#0a0a0a" stroke-width="0.3" >Alkaloids and Derivatives</text>
<rect x="275.00" y="754.65" width="11.5" height="11.5" fill="#1F78B4"/>
<text x="293.10" y="763.00" font-size="10.00" textLength="50.70" lengthAdjust="spacingAndGlyphs" fill="#0a0a0a" stroke="#0a0a0a" stroke-width="0.3" >Benzenoids</text>
<rect x="275.00" y="771.20" width="11.5" height="11.5" fill="#B2DF8A"/>
<text x="293.10" y="779.55" font-size="10.00" textLength="137.25" lengthAdjust="spacingAndGlyphs" fill="#0a0a0a" stroke="#0a0a0a" stroke-width="0.3" >Lipids and Lipid−Like Molecules</text>
<rect x="275.00" y="787.75" width="11.5" height="11.5" fill="#33A02C"/>
<text x="293.10" y="796.10" font-size="10.00" textLength="179.05" lengthAdjust="spacingAndGlyphs" fill="#0a0a0a" stroke="#0a0a0a" stroke-width="0.3" >Nucleosides, Nucleotides, and Analogues</text>
<rect x="275.00" y="804.30" width="11.5" height="11.5" fill="#FB9A99"/>
<text x="293.44" y="812.65" font-size="10.00" textLength="129.94" lengthAdjust="spacingAndGlyphs" fill="#0a0a0a" stroke="#0a0a0a" stroke-width="0.3" >Organic Acids and Derivatives</text>
<rect x="275.00" y="820.85" width="11.5" height="11.5" fill="#E31A1C"/>
<text x="293.44" y="829.20" font-size="10.00" textLength="128.34" lengthAdjust="spacingAndGlyphs" fill="#0a0a0a" stroke="#0a0a0a" stroke-width="0.3" >Organic Nitrogen Compounds</text>
<rect x="275.00" y="837.40" width="11.5" height="11.5" fill="#FDBF6F"/>
<text x="293.44" y="845.75" font-size="10.00" textLength="125.10" lengthAdjust="spacingAndGlyphs" fill="#0a0a0a" stroke="#0a0a0a" stroke-width="0.3" >Organic Oxygen Compounds</text>
<rect x="275.00" y="853.95" width="11.5" height="11.5" fill="#FF7F00"/>
<text x="293.44" y="862.30" font-size="10.00" textLength="138.58" lengthAdjust="spacingAndGlyphs" fill="#0a0a0a" stroke="#0a0a0a" stroke-width="0.3" >Organoheterocyclic Compounds</text>
<rect x="275.00" y="870.50" width="11.5" height="11.5" fill="#CAB2D6"/>
<text x="293.10" y="878.85" font-size="10.00" textLength="148.85" lengthAdjust="spacingAndGlyphs" fill="#0a0a0a" stroke="#0a0a0a" stroke-width="0.3" >Phenylpropanoids and Polyketides</text>
<rect x="275.00" y="887.05" width="11.5" height="11.5" fill="#6A3D9A"/>
<text x="293.44" y="895.40" font-size="10.00" textLength="29.11" lengthAdjust="spacingAndGlyphs" fill="#0a0a0a" stroke="#0a0a0a" stroke-width="0.3" >Others</text>
<ellipse cx="630.9" cy="835" rx="29.6" ry="97.9" transform="rotate(-11.2 630.9 835)" fill="#b8cde4"/>
<ellipse cx="764.1" cy="812.3" rx="154.1" ry="4.4" transform="rotate(46.25 764.1 812.3)" fill="#fdcaa7"/>
<line x1="549.10" y1="823.50" x2="885.30" y2="823.50" stroke="#cccccc" stroke-width="1.2" stroke-dasharray="7,6.1" stroke-dashoffset="1.3"/>
<line x1="697.70" y1="690.60" x2="697.70" y2="942.20" stroke="#9a9a9a" stroke-width="1.3" stroke-dasharray="6.1,6.85"/>
<circle cx="615.4" cy="801.4" r="4.3" fill="#1561b0"/>
<circle cx="642.4" cy="824.7" r="4.3" fill="#1561b0"/>
<circle cx="634.1" cy="878.6" r="4.3" fill="#1561b0"/>
<circle cx="715.8" cy="762.8" r="4.3" fill="#fb6612"/>
<circle cx="776.4" cy="822.7" r="4.3" fill="#fb6612"/>
<circle cx="800.2" cy="852.2" r="4.3" fill="#fb6612"/>
<rect x="549.1" y="690.6" width="336.19999999999993" height="251.60000000000002" fill="none" stroke="#111" stroke-width="1.8"/>
<line x1="545.50" y1="707.30" x2="549.10" y2="707.30" stroke="#111" stroke-width="1.3" />
<text x="529.07" y="711.00" font-size="14.40" textLength="15.06" lengthAdjust="spacingAndGlyphs" fill="#1a1a1a" stroke="#1a1a1a" stroke-width="0.3" >50</text>
<line x1="545.50" y1="765.40" x2="549.10" y2="765.40" stroke="#111" stroke-width="1.3" />
<text x="529.11" y="769.10" font-size="14.40" textLength="15.06" lengthAdjust="spacingAndGlyphs" fill="#1a1a1a" stroke="#1a1a1a" stroke-width="0.3" >25</text>
<line x1="545.50" y1="823.50" x2="549.10" y2="823.50" stroke="#111" stroke-width="1.3" />
<text x="536.60" y="827.20" font-size="14.40" textLength="7.53" lengthAdjust="spacingAndGlyphs" fill="#1a1a1a" stroke="#1a1a1a" stroke-width="0.3" >0</text>
<line x1="545.50" y1="881.60" x2="549.10" y2="881.60" stroke="#111" stroke-width="1.3" />
<text x="521.21" y="885.30" font-size="14.40" textLength="22.96" lengthAdjust="spacingAndGlyphs" fill="#1a1a1a" stroke="#1a1a1a" stroke-width="0.3" >−25</text>
<line x1="545.50" y1="939.70" x2="549.10" y2="939.70" stroke="#111" stroke-width="1.3" />
<text x="521.17" y="943.40" font-size="14.40" textLength="22.96" lengthAdjust="spacingAndGlyphs" fill="#1a1a1a" stroke="#1a1a1a" stroke-width="0.3" >−50</text>
<line x1="615.80" y1="942.20" x2="615.80" y2="945.60" stroke="#111" stroke-width="1.3" />
<text x="603.53" y="960.60" font-size="13.70" textLength="23.24" lengthAdjust="spacingAndGlyphs" fill="#1a1a1a" stroke="#1a1a1a" stroke-width="0.3" >−25</text>
<line x1="697.70" y1="942.20" x2="697.70" y2="945.60" stroke="#111" stroke-width="1.3" />
<text x="693.89" y="960.60" font-size="13.70" textLength="7.62" lengthAdjust="spacingAndGlyphs" fill="#1a1a1a" stroke="#1a1a1a" stroke-width="0.3" >0</text>
<line x1="779.60" y1="942.20" x2="779.60" y2="945.60" stroke="#111" stroke-width="1.3" />
<text x="771.92" y="960.60" font-size="13.70" textLength="15.24" lengthAdjust="spacingAndGlyphs" fill="#1a1a1a" stroke="#1a1a1a" stroke-width="0.3" >25</text>
<line x1="861.50" y1="942.20" x2="861.50" y2="945.60" stroke="#111" stroke-width="1.3" />
<text x="853.87" y="960.60" font-size="13.70" textLength="15.24" lengthAdjust="spacingAndGlyphs" fill="#1a1a1a" stroke="#1a1a1a" stroke-width="0.3" >50</text>
<text x="690.37" y="681.00" font-size="17.30" textLength="35.76" lengthAdjust="spacingAndGlyphs" fill="#111" stroke="#111" stroke-width="0.3" >PCA</text>
<text x="687.65" y="979.50" font-size="11.48" textLength="62.76" lengthAdjust="spacingAndGlyphs" fill="#111" stroke="#111" stroke-width="0.3" >PC1(38.8%)</text>
<text transform="translate(518.70,841.10) rotate(-90)" x="-1.11" y="0" font-size="13.66" textLength="73.85" lengthAdjust="spacingAndGlyphs" fill="#1a1a1a" stroke="#1a1a1a" stroke-width="0.3">PC2(19.9%)</text>
<circle cx="824.0" cy="710.3" r="4.95" fill="#fb6612"/>
<circle cx="824.0" cy="726.3" r="4.95" fill="#1561b0"/>
<text x="835.12" y="715.60" font-size="11.92" textLength="37.40" lengthAdjust="spacingAndGlyphs" fill="#111" stroke="#111" stroke-width="0.3" >G-GEB</text>
<text x="837.21" y="729.80" font-size="11.77" textLength="24.71" lengthAdjust="spacingAndGlyphs" fill="#111" stroke="#111" stroke-width="0.3" >GEB</text>
<ellipse cx="104" cy="1150" rx="1.4" ry="115.5" transform="rotate(-0.22 104 1150)" fill="#fdcfae"/>
<ellipse cx="339.2" cy="1151.2" rx="0.8" ry="32.5" transform="rotate(1.8 339.2 1151.2)" fill="#b8cde4"/>
<line x1="53.50" y1="1150.45" x2="390.10" y2="1150.45" stroke="#cccccc" stroke-width="1.2" stroke-dasharray="6,5" stroke-dashoffset="10.5"/>
<line x1="221.25" y1="1024.30" x2="221.25" y2="1276.40" stroke="#9a9a9a" stroke-width="1.3" stroke-dasharray="5.7,5.75" stroke-dashoffset="6.05"/>
<circle cx="103.9" cy="1097" r="4.45" fill="#fb6612"/>
<circle cx="103.4" cy="1168.9" r="4.45" fill="#fb6612"/>
<circle cx="104.5" cy="1186" r="4.45" fill="#fb6612"/>
<circle cx="339.8" cy="1135.6" r="4.45" fill="#1561b0"/>
<circle cx="338.7" cy="1154.9" r="4.45" fill="#1561b0"/>
<circle cx="338.7" cy="1160.5" r="4.45" fill="#1561b0"/>
<rect x="53.5" y="1024.3" width="336.6" height="252.10000000000014" fill="none" stroke="#111" stroke-width="1.8"/>
<line x1="50.50" y1="1034.50" x2="53.50" y2="1034.50" stroke="#111" stroke-width="1.3" />
<text x="31.78" y="1038.00" font-size="14.00" textLength="14.64" lengthAdjust="spacingAndGlyphs" fill="#1a1a1a" stroke="#1a1a1a" stroke-width="0.3" >50</text>
<line x1="50.50" y1="1092.48" x2="53.50" y2="1092.48" stroke="#111" stroke-width="1.3" />
<text x="31.81" y="1095.98" font-size="14.00" textLength="14.64" lengthAdjust="spacingAndGlyphs" fill="#1a1a1a" stroke="#1a1a1a" stroke-width="0.3" >25</text>
<line x1="50.50" y1="1150.45" x2="53.50" y2="1150.45" stroke="#111" stroke-width="1.3" />
<text x="39.10" y="1153.95" font-size="14.00" textLength="7.32" lengthAdjust="spacingAndGlyphs" fill="#1a1a1a" stroke="#1a1a1a" stroke-width="0.3" >0</text>
<line x1="50.50" y1="1208.42" x2="53.50" y2="1208.42" stroke="#111" stroke-width="1.3" />
<text x="24.13" y="1211.92" font-size="14.00" textLength="22.32" lengthAdjust="spacingAndGlyphs" fill="#1a1a1a" stroke="#1a1a1a" stroke-width="0.3" >−25</text>
<line x1="50.50" y1="1266.40" x2="53.50" y2="1266.40" stroke="#111" stroke-width="1.3" />
<text x="24.09" y="1269.90" font-size="14.00" textLength="22.32" lengthAdjust="spacingAndGlyphs" fill="#1a1a1a" stroke="#1a1a1a" stroke-width="0.3" >−50</text>
<line x1="56.70" y1="1276.40" x2="56.70" y2="1279.20" stroke="#111" stroke-width="1.3" />
<text x="44.69" y="1292.00" font-size="14.00" textLength="23.27" lengthAdjust="spacingAndGlyphs" fill="#1a1a1a" stroke="#1a1a1a" stroke-width="0.3" >−30</text>
<line x1="111.55" y1="1276.40" x2="111.55" y2="1279.20" stroke="#111" stroke-width="1.3" />
<text x="99.54" y="1292.00" font-size="14.00" textLength="23.27" lengthAdjust="spacingAndGlyphs" fill="#1a1a1a" stroke="#1a1a1a" stroke-width="0.3" >−20</text>
<line x1="166.40" y1="1276.40" x2="166.40" y2="1279.20" stroke="#111" stroke-width="1.3" />
<text x="154.39" y="1292.00" font-size="14.00" textLength="23.27" lengthAdjust="spacingAndGlyphs" fill="#1a1a1a" stroke="#1a1a1a" stroke-width="0.3" >−10</text>
<line x1="221.25" y1="1276.40" x2="221.25" y2="1279.20" stroke="#111" stroke-width="1.3" />
<text x="217.73" y="1292.00" font-size="14.00" textLength="7.63" lengthAdjust="spacingAndGlyphs" fill="#1a1a1a" stroke="#1a1a1a" stroke-width="0.3" >0</text>
<line x1="276.10" y1="1276.40" x2="276.10" y2="1279.20" stroke="#111" stroke-width="1.3" />
<text x="268.52" y="1292.00" font-size="14.00" textLength="15.26" lengthAdjust="spacingAndGlyphs" fill="#1a1a1a" stroke="#1a1a1a" stroke-width="0.3" >10</text>
<line x1="330.95" y1="1276.40" x2="330.95" y2="1279.20" stroke="#111" stroke-width="1.3" />
<text x="323.54" y="1292.00" font-size="14.00" textLength="15.26" lengthAdjust="spacingAndGlyphs" fill="#1a1a1a" stroke="#1a1a1a" stroke-width="0.3" >20</text>
<line x1="385.80" y1="1276.40" x2="385.80" y2="1279.20" stroke="#111" stroke-width="1.3" />
<text x="378.48" y="1292.00" font-size="14.00" textLength="15.26" lengthAdjust="spacingAndGlyphs" fill="#1a1a1a" stroke="#1a1a1a" stroke-width="0.3" >30</text>
<text x="173.99" y="1015.70" font-size="19.48" textLength="89.05" lengthAdjust="spacingAndGlyphs" fill="#111" stroke="#111" stroke-width="0.3" >OPLS−DA</text>
<text x="184.08" y="1311.80" font-size="13.81" textLength="74.26" lengthAdjust="spacingAndGlyphs" fill="#111" stroke="#111" stroke-width="0.3" >PC1(48.4%)</text>
<text transform="translate(23.20,1183.20) rotate(-90)" x="-1.11" y="0" font-size="13.95" textLength="81.45" lengthAdjust="spacingAndGlyphs" fill="#1a1a1a" stroke="#1a1a1a" stroke-width="0.3">PCo1(16.9%)</text>
<circle cx="324.75" cy="1039.6" r="4.95" fill="#fb6612"/>
<circle cx="324.75" cy="1055.8" r="4.95" fill="#1561b0"/>
<text x="335.42" y="1044.40" font-size="11.48" textLength="37.09" lengthAdjust="spacingAndGlyphs" fill="#111" stroke="#111" stroke-width="0.3" >G-GEB</text>
<text x="337.52" y="1058.40" font-size="11.19" textLength="24.50" lengthAdjust="spacingAndGlyphs" fill="#111" stroke="#111" stroke-width="0.3" >GEB</text>
<line x1="541.40" y1="1035.60" x2="882.00" y2="1035.60" stroke="#2a2a2a" stroke-width="1.3" stroke-dasharray="6.9,8.8"/>
<line x1="541.20" y1="1163.10" x2="869.50" y2="1043.50" stroke="#2a2a2a" stroke-width="1.3" stroke-dasharray="6.9,8.8"/>
<rect x="541.4" y="1025.3" width="344.70000000000005" height="258.10000000000014" fill="none" stroke="#111" stroke-width="1.8"/>
<line x1="555.95" y1="1025.30" x2="555.95" y2="1283.40" stroke="#111" stroke-width="1.8" />
<line x1="541.40" y1="1272.70" x2="886.10" y2="1272.70" stroke="#111" stroke-width="1.8" />
<line x1="536.90" y1="1035.60" x2="541.40" y2="1035.60" stroke="#111" stroke-width="1.3" />
<text x="512.44" y="1040.00" font-size="12.30" textLength="23.94" lengthAdjust="spacingAndGlyphs" fill="#1a1a1a" stroke="#1a1a1a" stroke-width="0.3" >1.00</text>
<line x1="536.90" y1="1094.88" x2="541.40" y2="1094.88" stroke="#111" stroke-width="1.3" />
<text x="512.48" y="1099.28" font-size="12.30" textLength="23.94" lengthAdjust="spacingAndGlyphs" fill="#1a1a1a" stroke="#1a1a1a" stroke-width="0.3" >0.75</text>
<line x1="536.90" y1="1154.15" x2="541.40" y2="1154.15" stroke="#111" stroke-width="1.3" />
<text x="512.44" y="1158.55" font-size="12.30" textLength="23.94" lengthAdjust="spacingAndGlyphs" fill="#1a1a1a" stroke="#1a1a1a" stroke-width="0.3" >0.50</text>
<line x1="536.90" y1="1213.42" x2="541.40" y2="1213.42" stroke="#111" stroke-width="1.3" />
<text x="512.48" y="1217.83" font-size="12.30" textLength="23.94" lengthAdjust="spacingAndGlyphs" fill="#1a1a1a" stroke="#1a1a1a" stroke-width="0.3" >0.25</text>
<line x1="536.90" y1="1272.70" x2="541.40" y2="1272.70" stroke="#111" stroke-width="1.3" />
<text x="512.44" y="1277.10" font-size="12.30" textLength="23.94" lengthAdjust="spacingAndGlyphs" fill="#1a1a1a" stroke="#1a1a1a" stroke-width="0.3" >0.00</text>
<line x1="555.95" y1="1283.40" x2="555.95" y2="1287.90" stroke="#111" stroke-width="1.3" />
<text x="546.68" y="1299.70" font-size="12.20" textLength="23.74" lengthAdjust="spacingAndGlyphs" fill="#1a1a1a" stroke="#1a1a1a" stroke-width="0.3" >0.00</text>
<line x1="635.05" y1="1283.40" x2="635.05" y2="1287.90" stroke="#111" stroke-width="1.3" />
<text x="625.80" y="1299.70" font-size="12.20" textLength="23.74" lengthAdjust="spacingAndGlyphs" fill="#1a1a1a" stroke="#1a1a1a" stroke-width="0.3" >0.25</text>
<line x1="714.15" y1="1283.40" x2="714.15" y2="1287.90" stroke="#111" stroke-width="1.3" />
<text x="704.88" y="1299.70" font-size="12.20" textLength="23.74" lengthAdjust="spacingAndGlyphs" fill="#1a1a1a" stroke="#1a1a1a" stroke-width="0.3" >0.50</text>
<line x1="793.25" y1="1283.40" x2="793.25" y2="1287.90" stroke="#111" stroke-width="1.3" />
<text x="784.00" y="1299.70" font-size="12.20" textLength="23.74" lengthAdjust="spacingAndGlyphs" fill="#1a1a1a" stroke="#1a1a1a" stroke-width="0.3" >0.75</text>
<line x1="872.35" y1="1283.40" x2="872.35" y2="1287.90" stroke="#111" stroke-width="1.3" />
<text x="862.85" y="1299.70" font-size="12.20" textLength="23.74" lengthAdjust="spacingAndGlyphs" fill="#1a1a1a" stroke="#1a1a1a" stroke-width="0.3" >1.00</text>
<circle cx="661.3" cy="1075.2" r="3.6" fill="#cde6a6" stroke="#3a6a27" stroke-width="1.2"/>
<circle cx="661.3" cy="1092.1" r="3.6" fill="#cde6a6" stroke="#3a6a27" stroke-width="1.2"/>
<circle cx="661.3" cy="1103.3" r="3.6" fill="#cde6a6" stroke="#3a6a27" stroke-width="1.2"/>
<circle cx="661.3" cy="1108.6" r="3.6" fill="#cde6a6" stroke="#3a6a27" stroke-width="1.2"/>
<circle cx="661.3" cy="1118.4" r="3.6" fill="#cde6a6" stroke="#3a6a27" stroke-width="1.2"/>
<circle cx="661.3" cy="1120.0" r="3.6" fill="#cde6a6" stroke="#3a6a27" stroke-width="1.2"/>
<circle cx="661.3" cy="1120.7" r="3.6" fill="#cde6a6" stroke="#3a6a27" stroke-width="1.2"/>
<circle cx="661.3" cy="1142.3" r="3.6" fill="#cde6a6" stroke="#3a6a27" stroke-width="1.2"/>
<circle cx="661.3" cy="1145.3" r="3.6" fill="#cde6a6" stroke="#3a6a27" stroke-width="1.2"/>
<circle cx="661.3" cy="1155.0" r="3.6" fill="#cde6a6" stroke="#3a6a27" stroke-width="1.2"/>
<rect x="658.7" y="1033.3" width="6.4" height="6.6" fill="#1b5c9e" stroke="#14305e" stroke-width="0.9"/>
<rect x="868.6" y="1032.6" width="6.6" height="6.6" fill="#1b5c9e" stroke="#14305e" stroke-width="0.9"/>
<circle cx="872.0" cy="1039.6" r="3.6" fill="#cde6a6" stroke="#3a6a27" stroke-width="1.2"/>
<circle cx="852.35" cy="1196.0" r="3.2" fill="#cde6a6" stroke="#3a6a27" stroke-width="1.2"/>
<rect x="849.1" y="1208.2" width="6.5" height="6.2" fill="#1b5c9e" stroke="#14305e" stroke-width="0.9"/>
<text x="864.10" y="1199.10" font-size="8.43" textLength="11.33" lengthAdjust="spacingAndGlyphs" fill="#111" stroke="#111" stroke-width="0.3" >Q2</text>
<text x="863.81" y="1213.90" font-size="7.85" textLength="10.82" lengthAdjust="spacingAndGlyphs" fill="#111" stroke="#111" stroke-width="0.3" >R2</text>
<text x="633.30" y="1017.00" font-size="13.66" textLength="69.71" lengthAdjust="spacingAndGlyphs" fill="#111" stroke="#111" stroke-width="0.3" >R2=(0.0,1)</text>
<text x="714.61" y="1016.90" font-size="13.37" textLength="98.09" lengthAdjust="spacingAndGlyphs" fill="#111" stroke="#111" stroke-width="0.3" >Q2=(0.0,0.484)</text>
<text x="631.25" y="1316.50" font-size="13.23" textLength="177.54" lengthAdjust="spacingAndGlyphs" fill="#111" stroke="#111" stroke-width="0.3" >200 permutations 1 component</text>
</svg></body></html>
